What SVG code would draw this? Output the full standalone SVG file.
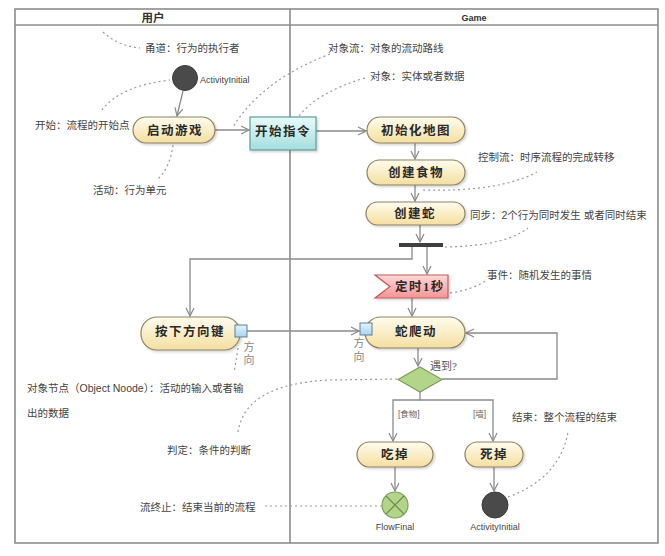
<svg xmlns="http://www.w3.org/2000/svg" width="665" height="556" viewBox="0 0 665 556">
  <defs>
    <linearGradient id="gAct" x1="0" y1="0" x2="0" y2="1">
      <stop offset="0" stop-color="#fffcee"/>
      <stop offset="1" stop-color="#f4dfa0"/>
    </linearGradient>
    <linearGradient id="gObj" x1="0" y1="0" x2="0" y2="1">
      <stop offset="0" stop-color="#e8fbfb"/>
      <stop offset="1" stop-color="#a4dede"/>
    </linearGradient>
    <linearGradient id="gEvt" x1="0" y1="0" x2="0" y2="1">
      <stop offset="0" stop-color="#ffd8d8"/>
      <stop offset="1" stop-color="#f39494"/>
    </linearGradient>
    <linearGradient id="gPin" x1="0" y1="0" x2="0" y2="1">
      <stop offset="0" stop-color="#e4f3fd"/>
      <stop offset="1" stop-color="#a9d4f2"/>
    </linearGradient>
    <marker id="arr" markerWidth="10" markerHeight="10" refX="9" refY="5" orient="auto" markerUnits="userSpaceOnUse">
      <path d="M1,1 L9,5 L1,9" fill="none" stroke="#8a8a8a" stroke-width="1.2"/>
    </marker>
    <filter id="sh" x="-10%" y="-20%" width="130%" height="150%">
      <feDropShadow dx="1.5" dy="1.5" stdDeviation="1" flood-color="#000" flood-opacity="0.18"/>
    </filter>
  </defs>
  <style>
    .frame { fill: none; stroke: #8c8c8c; stroke-width: 1.6; }
    .act { fill: url(#gAct); stroke: #8f8262; stroke-width: 1.2; filter: url(#sh); }
    .obj { fill: url(#gObj); stroke: #5f9c9c; stroke-width: 1.2; filter: url(#sh); }
    .evt { fill: url(#gEvt); stroke: #c25a5a; stroke-width: 1.2; filter: url(#sh); }
    .pin { fill: url(#gPin); stroke: #5d7f99; stroke-width: 1; }
    .dec { fill: #b3d58a; stroke: #7d9d5c; stroke-width: 1.2; }
    .dot { fill: #4a4a4a; stroke: #3a3a3a; stroke-width: 1; }
    .flow { fill: none; stroke: #8a8a8a; stroke-width: 1.3; }
    .note { fill: none; stroke: #9a9a9a; stroke-width: 1.2; stroke-dasharray: 2 3; }
    .lbl { font-family: "Liberation Serif", "Noto Sans CJK SC", serif; font-weight: bold; font-size: 12.5px; fill: #2a2a2a; text-anchor: middle; letter-spacing: 1.5px; }
    .ann { font-family: "Liberation Sans", "Noto Sans CJK SC", sans-serif; font-size: 10.5px; fill: #444; }
    .small { font-family: "Liberation Sans", "Noto Sans CJK SC", sans-serif; font-size: 9px; fill: #444; }
    .guard { font-family: "Liberation Sans", "Noto Sans CJK SC", sans-serif; font-size: 8.5px; fill: #666; }
    .pinl { font-family: "Liberation Serif", "Noto Sans CJK SC", serif; font-size: 11px; fill: #888; text-anchor: middle; }
    .cond { font-family: "Liberation Serif", "Noto Sans CJK SC", serif; font-size: 11px; fill: #555; }
    .head { font-family: "Liberation Sans", "Noto Sans CJK SC", sans-serif; font-weight: bold; fill: #333; text-anchor: middle; }
  </style>

  <rect width="665" height="556" fill="#ffffff"/>

  <!-- swimlane frame -->
  <g id="lanes">
    <rect class="frame" x="15" y="9" width="643" height="534"/>
    <line class="frame" x1="15" y1="25" x2="658" y2="25"/>
    <line class="frame" x1="290" y1="9" x2="290" y2="543"/>
    <text class="head" x="153" y="21.5" font-size="11.5">用户</text>
    <text class="head" x="474" y="21" font-size="9">Game</text>
  </g>

  <!-- annotation leader lines -->
  <g id="notes-lines">
    <path class="note" d="M103,32 Q118,46 140,48"/>
    <path class="note" d="M102,110 Q120,86 170,80"/>
    <path class="note" d="M173,145 Q170,168 157,180"/>
    <path class="note" d="M330,54 Q262,80 233,127"/>
    <path class="note" d="M365,78 Q318,92 299,116"/>
    <path class="note" d="M423,190 Q500,192 537,172"/>
    <path class="note" d="M445,247 Q505,246 528,228"/>
    <path class="note" d="M450,293 Q472,290 487,280"/>
    <path class="note" d="M238,348 Q236,362 234,372"/>
    <path class="note" d="M238,432 Q245,384 330,380 L398,379"/>
    <path class="note" d="M265,506 L382,506"/>
    <path class="note" d="M508,497 Q560,478 568,432"/>
  </g>

  <!-- connectors -->
  <g id="connectors">
    <path class="flow" d="M183,91 L177,116" marker-end="url(#arr)"/>
    <path class="flow" d="M215,130 L249,130" marker-end="url(#arr)"/>
    <path class="flow" d="M316,131 L366,131" marker-end="url(#arr)"/>
    <path class="flow" d="M415,143 L415,159" marker-end="url(#arr)"/>
    <path class="flow" d="M415,185 L415,201" marker-end="url(#arr)"/>
    <path class="flow" d="M420,225 L420,242" marker-end="url(#arr)"/>
    <path class="flow" d="M412,247 V259 H190 V316" marker-end="url(#arr)"/>
    <path class="flow" d="M427,247 V274" marker-end="url(#arr)"/>
    <path class="flow" d="M412,298 V316" marker-end="url(#arr)"/>
    <path class="flow" d="M247,331 H359" marker-end="url(#arr)"/>
    <path class="flow" d="M418,348 V366" marker-end="url(#arr)"/>
    <path class="flow" d="M442,379 H557 V333 H466" marker-end="url(#arr)"/>
    <path class="flow" d="M420,392 V400 H393 V441" marker-end="url(#arr)"/>
    <path class="flow" d="M420,400 H493 V441" marker-end="url(#arr)"/>
    <path class="flow" d="M395,467 V491" marker-end="url(#arr)"/>
    <path class="flow" d="M494,467 V491" marker-end="url(#arr)"/>
  </g>

  <!-- user lane nodes -->
  <g id="start">
    <circle class="dot" cx="185" cy="78" r="12.5"/>
    <text class="small" x="200" y="83">ActivityInitial</text>
  </g>
  <g id="launch-game">
    <rect class="act" x="133" y="117" width="82" height="26" rx="13"/>
    <text class="lbl" x="175" y="134.5">启动游戏</text>
  </g>
  <g id="press-arrow-key">
    <rect class="act" x="141" y="317" width="99" height="33" rx="16"/>
    <text class="lbl" x="190" y="335.5">按下方向键</text>
    <rect class="pin" x="235" y="325" width="12" height="12"/>
    <text class="pinl" x="249" y="351">方</text>
    <text class="pinl" x="249" y="364">向</text>
  </g>

  <!-- game lane nodes -->
  <g id="start-command">
    <rect class="obj" x="250" y="117" width="66" height="33"/>
    <text class="lbl" x="283" y="135.5">开始指令</text>
  </g>
  <g id="init-map">
    <rect class="act" x="367" y="117" width="98" height="26" rx="13"/>
    <text class="lbl" x="416" y="134.5">初始化地图</text>
  </g>
  <g id="create-food">
    <rect class="act" x="367" y="160" width="98" height="25" rx="12.5"/>
    <text class="lbl" x="416" y="177">创建食物</text>
  </g>
  <g id="create-snake">
    <rect class="act" x="366" y="202" width="99" height="23" rx="11.5"/>
    <text class="lbl" x="415" y="218">创建蛇</text>
  </g>
  <g id="fork">
    <rect x="399" y="243" width="44" height="4" fill="#3f3f3f"/>
  </g>
  <g id="timer">
    <polygon class="evt" points="375,275 448,275 448,298 375,298 390,286.5"/>
    <text class="lbl" x="420" y="291">定时1秒</text>
  </g>
  <g id="snake-move">
    <rect class="act" x="365" y="317" width="100" height="31" rx="15.5"/>
    <text class="lbl" x="416" y="336">蛇爬动</text>
    <rect class="pin" x="360" y="323" width="12" height="12"/>
    <text class="pinl" x="359" y="347">方</text>
    <text class="pinl" x="359" y="361">向</text>
  </g>
  <g id="hit-decision">
    <polygon class="dec" points="420,367 442,379.5 420,392 398,379.5"/>
    <text class="cond" x="430" y="370">遇到?</text>
  </g>
  <g id="guards">
    <text class="guard" x="398" y="417">[食物]</text>
    <text class="guard" x="473" y="417">[墙]</text>
  </g>
  <g id="eat">
    <rect class="act" x="357" y="442" width="76" height="25" rx="12.5"/>
    <text class="lbl" x="395" y="459">吃掉</text>
  </g>
  <g id="die">
    <rect class="act" x="465" y="442" width="58" height="25" rx="12.5"/>
    <text class="lbl" x="494" y="459">死掉</text>
  </g>
  <g id="flow-final">
    <circle class="dec" cx="395" cy="505" r="13"/>
    <path d="M386,496 L404,514 M404,496 L386,514" stroke="#6f8f50" stroke-width="1.3"/>
    <text class="small" x="395" y="530" text-anchor="middle">FlowFinal</text>
  </g>
  <g id="end">
    <circle class="dot" cx="495" cy="505" r="13"/>
    <text class="small" x="495" y="530" text-anchor="middle">ActivityInitial</text>
  </g>

  <!-- annotations -->
  <g id="annotations">
    <text class="ann" x="145" y="52">甬道：行为的执行者</text>
    <text class="ann" x="35" y="129">开始：流程的开始点</text>
    <text class="ann" x="93" y="194">活动：行为单元</text>
    <text class="ann" x="328" y="52">对象流：对象的流动路线</text>
    <text class="ann" x="370" y="80">对象：实体或者数据</text>
    <text class="ann" x="478" y="161">控制流：时序流程的完成转移</text>
    <text class="ann" x="470" y="219">同步：2个行为同时发生 或者同时结束</text>
    <text class="ann" x="487" y="279">事件：随机发生的事情</text>
    <text class="ann" x="27" y="392" font-size="11">对象节点（Object Noode）：活动的输入或者输</text>
    <text class="ann" x="27" y="417" font-size="11">出的数据</text>
    <text class="ann" x="167" y="454">判定：条件的判断</text>
    <text class="ann" x="140" y="511">流终止：结束当前的流程</text>
    <text class="ann" x="512" y="421">结束：整个流程的结束</text>
  </g>
</svg>
